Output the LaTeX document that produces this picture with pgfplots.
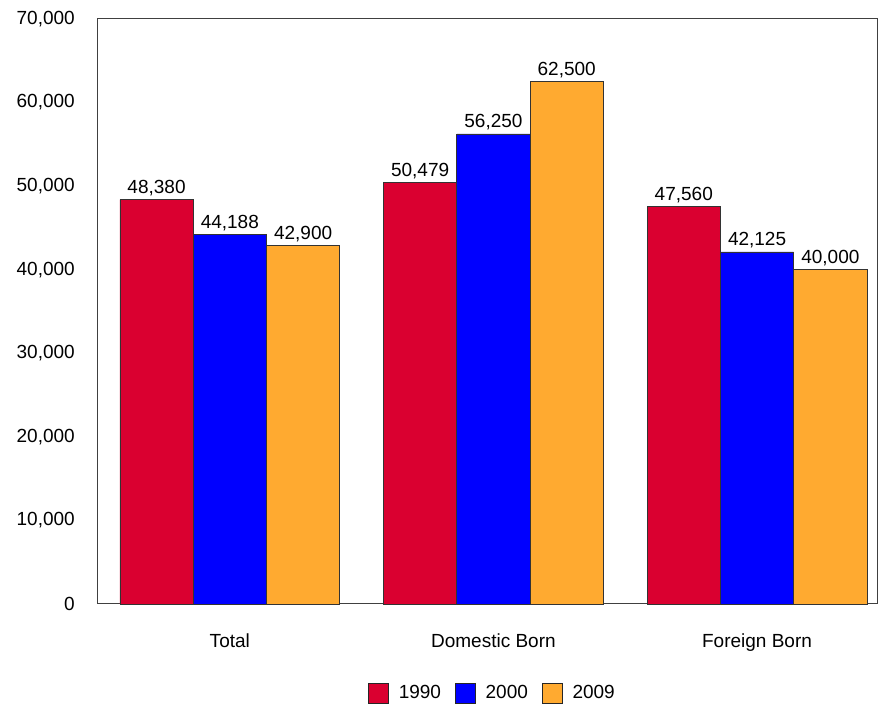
\documentclass[border=0pt]{standalone}
\usepackage{fontspec}
\setmainfont{Liberation Sans}
\usepackage{pgfplots}
\pgfplotsset{compat=1.18}
\definecolor{cred}{RGB}{218,0,48}
\definecolor{cblue}{RGB}{0,0,255}
\definecolor{corange}{RGB}{255,170,48}
\newcommand{\tf}{\fontsize{19}{22}\selectfont}
\begin{document}
\begin{tikzpicture}
\path[use as bounding box] (-98pt,-102pt) rectangle (780pt,604pt);
\begin{axis}[
  at={(0,0)}, anchor=south west,
  scale only axis, width=779pt, height=585pt,
  xmin=-0.5, xmax=2.455, ymin=0, ymax=70000,
  ybar=0pt, bar width=0.278,
  xtick={0,1,2}, xticklabels={Total, Domestic Born, Foreign Born},
  ytick={0,10000,20000,30000,40000,50000,60000,70000},
  major tick length=0pt,
  scaled y ticks=false,
  axis line style={black!75, line width=1pt},
  /pgf/number format/.cd, fixed, 1000 sep={,}, assume math mode=true,
  /pgfplots/.cd,
  tick label style={font=\tf},
  yticklabel style={anchor=east, xshift=-19.7pt},
  xticklabel style={anchor=north, yshift=-26pt},
  clip=false,
  nodes near coords,
  nodes near coords style={font=\tf, anchor=south},
  legend style={at={(0.5,0)}, anchor=center, yshift=-89pt, xshift=5pt, draw=none,
    font=\tf, legend columns=-1,
    /tikz/every odd column/.append style={column sep=8pt},
    /tikz/every even column/.append style={column sep=12pt}},
  mybox/.style={legend image code/.code={\draw[##1, draw=black!85, line width=0.6pt] (0pt,-10pt) rectangle (20pt,10pt);}},
]
\addplot[fill=cred, draw=black!80, line width=0.6pt, mybox] coordinates {(0,48380) (1,50479) (2,47560)};
\addplot[fill=cblue, draw=black!80, line width=0.6pt, mybox] coordinates {(0,44188) (1,56250) (2,42125)};
\addplot[fill=corange, draw=black!80, line width=0.6pt, mybox] coordinates {(0,42900) (1,62500) (2,40000)};
\legend{1990,2000,2009}
\end{axis}
\end{tikzpicture}
\end{document}
